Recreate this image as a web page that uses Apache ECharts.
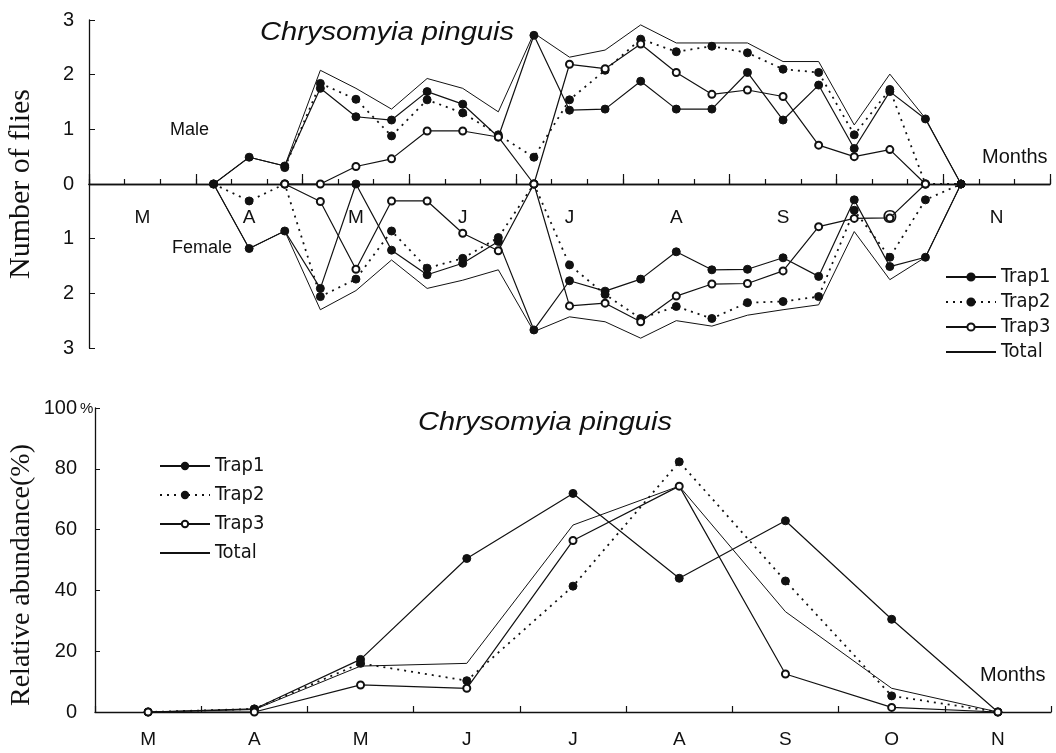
<!DOCTYPE html>
<html>
<head>
<meta charset="utf-8">
<script src="https://cdn.jsdelivr.net/npm/echarts@6/dist/echarts.min.js"></script>
<style>
  html, body { margin: 0; padding: 0; background: #fff; }
  #chart { width: 1056px; height: 753px; }
</style>
</head>
<body>
<div id="chart"></div>
<script>
// 10-day periods, March to November (3 per month)
const periods = [
  'Mar1', 'Mar2', 'Mar3', 'Apr1', 'Apr2', 'Apr3', 'May1', 'May2', 'May3',
  'Jun1', 'Jun2', 'Jun3', 'Jul1', 'Jul2', 'Jul3', 'Aug1', 'Aug2', 'Aug3',
  'Sep1', 'Sep2', 'Sep3', 'Oct1', 'Oct2', 'Oct3', 'Nov1', 'Nov2', 'Nov3'
];
const months = ['M', 'A', 'M', 'J', 'J', 'A', 'S', 'O', 'N'];
const _ = null;

// top panel: number of flies (male above, female below the axis)
const maleTrap1 = [_, _, _, 0, 0.49, 0.33, 1.75, 1.23, 1.17, 1.69, 1.46, 0.86, 2.72, 1.35, 1.37, 1.88, 1.37, 1.37, 2.04, 1.17, 1.81, 0.65, 1.69, 1.19, 0, _, _];
const maleTrap2 = [_, _, _, _, _, 0.3, 1.84, 1.55, 0.88, 1.54, 1.3, 0.9, 0.49, 1.54, 2.08, 2.65, 2.42, 2.52, 2.4, 2.1, 2.04, 0.9, 1.73, 0, 0, _, _];
const maleTrap3 = [_, _, _, _, _, 0, 0, 0.32, 0.46, 0.97, 0.97, 0.86, 0, 2.19, 2.11, 2.56, 2.04, 1.64, 1.72, 1.6, 0.71, 0.5, 0.63, 0, _, _, _];
const maleTotal = [_, _, _, 0, 0.49, 0.33, 2.08, 1.75, 1.37, 1.93, 1.75, 1.32, 2.76, 2.32, 2.45, 2.91, 2.58, 2.58, 2.58, 2.24, 2.24, 1.08, 2.01, 1.2, 0, _, _];

const femaleTrap1 = [_, _, _, 0, 1.18, 0.86, 1.91, 0, 1.21, 1.66, 1.45, 1.05, 2.67, 1.77, 1.96, 1.74, 1.24, 1.57, 1.56, 1.35, 1.69, 0.29, 1.51, 1.34, 0, _, _];
const femaleTrap2 = [_, _, _, 0, 0.31, 0, 2.06, 1.74, 0.86, 1.54, 1.36, 0.98, 0, 1.48, 2.02, 2.46, 2.24, 2.46, 2.17, 2.15, 2.06, 0.48, 1.34, 0.29, 0, _, _];
const femaleTrap3 = [_, _, _, _, _, 0, 0.32, 1.56, 0.31, 0.31, 0.9, 1.22, 0, 2.23, 2.18, 2.52, 2.05, 1.83, 1.82, 1.59, 0.78, 0.63, 0.62, 0, _, _, _];
const femaleTotal = [_, _, _, 0, 1.18, 0.86, 2.3, 1.95, 1.39, 1.91, 1.76, 1.57, 2.7, 2.43, 2.52, 2.82, 2.5, 2.6, 2.4, 2.3, 2.21, 0.87, 1.75, 1.34, 0, _, _];

// bottom panel: relative abundance (%) per month
const relTrap1 = [0, 1, 17.3, 50.5, 71.9, 44, 62.9, 30.5, 0];
const relTrap2 = [0, 1, 16, 10.3, 41.4, 82.3, 43.1, 5.3, 0];
const relTrap3 = [0, 0, 8.9, 7.8, 56.4, 74.3, 12.5, 1.5, 0];
const relTotal = [0, 0.8, 15.1, 16, 61.5, 74.3, 33, 7.8, 0];

const INK = '#111';
const SANS = '"Liberation Sans", Arial, sans-serif';
const NARROW = '"Liberation Sans Narrow", "DejaVu Sans Condensed", "Liberation Sans", sans-serif';
const SERIF = '"Liberation Serif", "Times New Roman", serif';

const chart = echarts.init(document.getElementById('chart'));

function lineSeries(name, data, kind, xi, yi) {
  const s = {
    name: name,
    type: 'line',
    xAxisIndex: xi,
    yAxisIndex: yi,
    data: data,
    connectNulls: false,
    symbolSize: 8,
    lineStyle: { color: INK, width: 1.2 },
    itemStyle: { color: INK, borderColor: INK, borderWidth: 1 },
    emphasis: { disabled: true }
  };
  if (kind === 'trap1') {
    s.symbol = 'circle';
  } else if (kind === 'trap2') {
    s.symbol = 'circle';
    s.lineStyle = { color: INK, width: 1.8, type: [2, 5] };
  } else if (kind === 'trap3') {
    s.symbol = 'emptyCircle';
    s.symbolSize = 7;
  } else {
    s.symbol = 'none';
    s.lineStyle = { color: INK, width: 1 };
  }
  return s;
}

const legendNames = ['Trap1', 'Trap2', 'Trap3', { name: 'Total', itemStyle: { opacity: 0 } }];
const axisInk = { color: INK, width: 1.3 };
const tickLabel = { fontSize: 20, color: INK, fontFamily: SANS };

function xTick(len) {
  return { show: true, inside: true, length: len, interval: 0, alignWithLabel: false, lineStyle: { color: INK, width: 1.2 } };
}

const option = {
  animation: false,
  backgroundColor: '#fff',
  grid: [
    { left: 89, top: 20, width: 961, height: 164 },   // male
    { left: 89, top: 184, width: 961, height: 164 },  // female
    { left: 95, top: 408, width: 956, height: 304 }   // relative abundance
  ],
  legend: [
    {
      data: legendNames, orient: 'vertical', left: 940, top: 262,
      itemWidth: 50, itemHeight: 9, itemGap: 5, selectedMode: false,
      textStyle: { fontSize: 20, color: INK, fontFamily: NARROW, lineHeight: 20 }
    },
    {
      data: legendNames, orient: 'vertical', left: 154, top: 451,
      itemWidth: 50, itemHeight: 8, itemGap: 9, selectedMode: false,
      textStyle: { fontSize: 20, color: INK, fontFamily: NARROW, lineHeight: 20 }
    }
  ],
  xAxis: [
    {
      type: 'category', gridIndex: 0, data: periods, boundaryGap: true, position: 'bottom',
      axisLine: { show: true, onZero: false, lineStyle: axisInk },
      axisTick: xTick(5),
      axisLabel: { show: false },
      splitLine: { show: false }
    },
    {
      type: 'category', gridIndex: 0, data: months, boundaryGap: true, position: 'bottom',
      axisLine: { show: true, onZero: false, lineStyle: axisInk },
      axisTick: xTick(10),
      axisLabel: { margin: 24, fontSize: 19, color: INK, fontFamily: SANS, interval: 0 },
      splitLine: { show: false }
    },
    {
      type: 'category', gridIndex: 1, data: periods, boundaryGap: true, show: false
    },
    {
      type: 'category', gridIndex: 2, data: months, boundaryGap: true, position: 'bottom',
      axisLine: { show: true, onZero: false, lineStyle: axisInk },
      axisTick: xTick(6),
      axisLabel: { margin: 18, fontSize: 19, color: INK, fontFamily: SANS, interval: 0 },
      splitLine: { show: false }
    }
  ],
  yAxis: [
    {
      type: 'value', gridIndex: 0, min: 0, max: 3, interval: 1,
      axisLine: { show: true, onZero: false, lineStyle: axisInk },
      axisTick: { show: true, inside: true, length: 6, lineStyle: { color: INK } },
      axisLabel: Object.assign({ margin: 15 }, tickLabel),
      splitLine: { show: false }
    },
    {
      type: 'value', gridIndex: 1, min: 0, max: 3, interval: 1, inverse: true,
      axisLine: { show: true, onZero: false, lineStyle: axisInk },
      axisTick: { show: true, inside: true, length: 6, lineStyle: { color: INK } },
      axisLabel: Object.assign({ margin: 15, showMinLabel: false }, tickLabel),
      splitLine: { show: false }
    },
    {
      type: 'value', gridIndex: 2, min: 0, max: 100, interval: 20,
      axisLine: { show: true, onZero: false, lineStyle: axisInk },
      axisTick: { show: true, inside: true, length: 5, lineStyle: { color: INK } },
      axisLabel: Object.assign({ margin: 18 }, tickLabel),
      splitLine: { show: false }
    }
  ],
  series: [
    lineSeries('Total', maleTotal, 'total', 0, 0),
    lineSeries('Total', femaleTotal, 'total', 2, 1),
    lineSeries('Trap1', maleTrap1, 'trap1', 0, 0),
    lineSeries('Trap1', femaleTrap1, 'trap1', 2, 1),
    lineSeries('Trap2', maleTrap2, 'trap2', 0, 0),
    lineSeries('Trap2', femaleTrap2, 'trap2', 2, 1),
    lineSeries('Trap3', maleTrap3, 'trap3', 0, 0),
    lineSeries('Trap3', femaleTrap3, 'trap3', 2, 1),
    lineSeries('Total', relTotal, 'total', 3, 2),
    lineSeries('Trap1', relTrap1, 'trap1', 3, 2),
    lineSeries('Trap2', relTrap2, 'trap2', 3, 2),
    lineSeries('Trap3', relTrap3, 'trap3', 3, 2)
  ],
  graphic: [
    { type: 'text', x: 260, y: 33, scaleX: 1.12,
      style: { text: 'Chrysomyia pinguis', fontSize: 26, fontStyle: 'italic', fontFamily: SANS, fill: INK, verticalAlign: 'middle' } },
    { type: 'text', x: 418, y: 423, scaleX: 1.12,
      style: { text: 'Chrysomyia pinguis', fontSize: 26, fontStyle: 'italic', fontFamily: SANS, fill: INK, verticalAlign: 'middle' } },
    { type: 'text', x: 170, y: 130,
      style: { text: 'Male', fontSize: 18, fontFamily: SANS, fill: INK, verticalAlign: 'middle' } },
    { type: 'text', x: 172, y: 248,
      style: { text: 'Female', fontSize: 18, fontFamily: SANS, fill: INK, verticalAlign: 'middle' } },
    { type: 'text', x: 982, y: 157,
      style: { text: 'Months', fontSize: 20, fontFamily: SANS, fill: INK, verticalAlign: 'middle' } },
    { type: 'text', x: 980, y: 675,
      style: { text: 'Months', fontSize: 20, fontFamily: SANS, fill: INK, verticalAlign: 'middle' } },
    { type: 'text', x: 80, y: 409,
      style: { text: '%', fontSize: 15, fontFamily: SANS, fill: INK, verticalAlign: 'middle' } },
    { type: 'text', x: 21, y: 184, rotation: Math.PI / 2,
      style: { text: 'Number of flies', fontSize: 30, fontFamily: SERIF, fill: INK, align: 'center', verticalAlign: 'middle' } },
    { type: 'text', x: 22, y: 575, rotation: Math.PI / 2,
      style: { text: 'Relative abundance(%)', fontSize: 28, fontFamily: SERIF, fill: INK, align: 'center', verticalAlign: 'middle' } }
  ]
};

chart.setOption(option);
</script>
</body>
</html>
